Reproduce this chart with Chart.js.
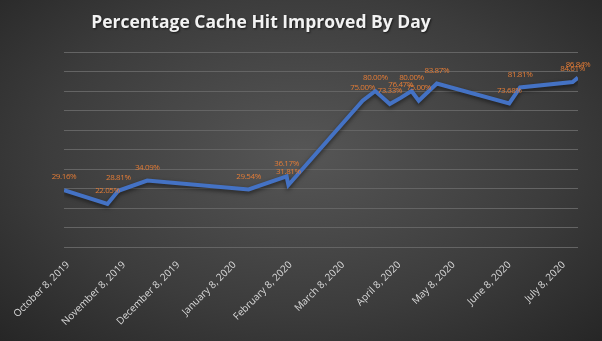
<!DOCTYPE html>
<html>
<head>
<meta charset="utf-8">
<script src="https://cdn.jsdelivr.net/npm/chart.js@4"></script>
<style>
  html, body { margin: 0; padding: 0; }
  body {
    width: 602px; height: 341px; overflow: hidden;
    background: radial-gradient(ellipse farthest-corner at 50% 45%, #565656 0%, #3c3c3c 60%, #262626 100%);
  }
  canvas { display: block; }
</style>
</head>
<body>
<canvas id="c" width="602" height="341"></canvas>
<script>
const chartTitle = "Percentage Cache Hit Improved By Day";
const dates = ["2019-10-08","2019-11-01","2019-11-07","2019-11-23","2020-01-18","2020-02-08","2020-02-09",
               "2020-03-21","2020-03-28","2020-04-05","2020-04-11","2020-04-17","2020-04-21","2020-05-01",
               "2020-06-10","2020-06-16","2020-07-15","2020-07-18"];
const hitPercent = [29.16,22.05,28.81,34.09,29.54,36.17,31.81,75.00,80.00,73.33,76.47,80.00,75.00,83.87,73.68,81.81,84.61,86.84];
const tickDates = ["2019-10-08","2019-11-08","2019-12-08","2020-01-08","2020-02-08","2020-03-08",
                   "2020-04-08","2020-05-08","2020-06-08","2020-07-08"];
const tickLabels = ["October 8, 2019","November 8, 2019","December 8, 2019","January 8, 2020","February 8, 2020",
                    "March 8, 2020","April 8, 2020","May 8, 2020","June 8, 2020","July 8, 2020"];

const toDay = s => Date.parse(s) / 86400000;
const points = dates.map((d, i) => ({ x: toDay(d), y: hitPercent[i] }));

const bgTitle = {
  id: 'titleText',
  afterDraw(chart) {
    const ctx = chart.ctx;
    ctx.save();
    ctx.font = 'bold 17.5px "Open Sans"';
    ctx.textAlign = 'center';
    ctx.textBaseline = 'middle';
    ctx.shadowColor = 'rgba(0,0,0,0.6)';
    ctx.shadowOffsetX = 1; ctx.shadowOffsetY = 1; ctx.shadowBlur = 2;
    ctx.fillStyle = '#f2f2f2';
    ctx.fillText(chartTitle, 261, 23);
    ctx.restore();
  }
};

const lineShadow = {
  id: 'lineShadow',
  beforeDatasetDraw(chart) {
    chart.ctx.save();
    chart.ctx.shadowColor = 'rgba(0,0,0,0.55)';
    chart.ctx.shadowBlur = 4;
    chart.ctx.shadowOffsetY = 2;
  },
  afterDatasetDraw(chart) { chart.ctx.restore(); }
};

const dataLabels = {
  id: 'dataLabels',
  afterDatasetsDraw(chart) {
    const ctx = chart.ctx;
    const meta = chart.getDatasetMeta(0);
    ctx.save();
    ctx.font = '8px "Open Sans"';
    try { ctx.letterSpacing = '-0.4px'; } catch (e) {}
    ctx.fillStyle = '#E47C36';
    ctx.textAlign = 'center';
    ctx.textBaseline = 'middle';
    meta.data.forEach((pt, i) => {
      ctx.fillText(hitPercent[i].toFixed(2) + '%', pt.x, pt.y - 13);
    });
    ctx.restore();
  }
};

new Chart(document.getElementById('c'), {
  type: 'line',
  data: {
    datasets: [{
      data: points,
      borderColor: '#4472C4',
      borderWidth: 4,
      pointRadius: 0,
      tension: 0,
      fill: false,
      borderJoinStyle: 'miter'
    }]
  },
  options: {
    responsive: false,
    animation: false,
    layout: { padding: { left: 64, right: 24, top: 52, bottom: 0 } },
    plugins: { legend: { display: false }, tooltip: { enabled: false }, title: { display: false } },
    scales: {
      x: {
        type: 'linear',
        min: toDay(dates[0]),
        max: toDay(dates[dates.length - 1]),
        grid: { display: false },
        border: { display: false },
        afterBuildTicks(scale) { scale.ticks = tickDates.map(d => ({ value: toDay(d) })); },
        afterFit(scale) { scale.height = 94; },
        ticks: {
          autoSkip: false,
          maxRotation: 45, minRotation: 45,
          padding: 4,
          labelOffset: 4,
          color: '#d9d9d9',
          font: { family: '"Open Sans"', size: 10 },
          callback: (v, i) => tickLabels[i]
        }
      },
      y: {
        min: 0, max: 100,
        ticks: { display: false, stepSize: 10 },
        grid: { color: '#646464', lineWidth: 1, drawTicks: false },
        border: { display: false },
        afterFit(scale) { scale.width = 0; }
      }
    }
  },
  plugins: [lineShadow, dataLabels, bgTitle]
});
</script>
</body>
</html>
